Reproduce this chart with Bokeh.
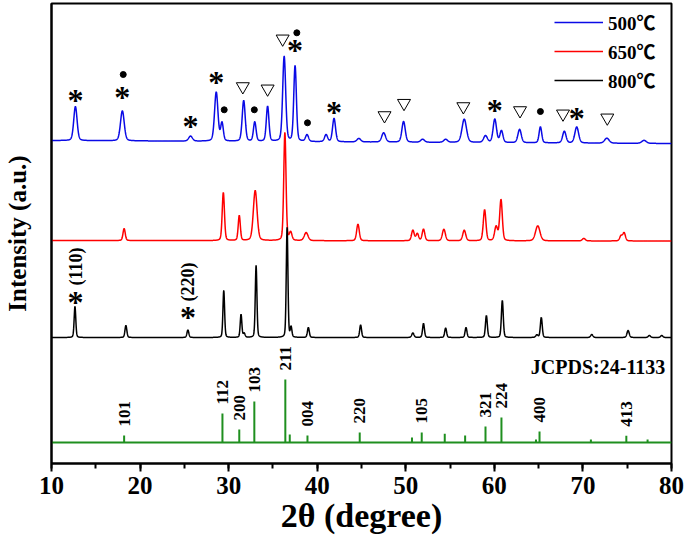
import numpy as np
from bokeh.plotting import figure
from bokeh.models import Range1d, SingleIntervalTicker, FixedTicker, Legend, LegendItem
from bokeh.core.properties import value
from bokeh.embed import file_html
from bokeh.resources import INLINE

# ---------------- data ----------------
x_ticks_interval = 10

# 800 C (black)
s800_base = [126, 126]
s800_pos = [12.65, 18.4, 25.4, 29.45, 31.4, 31.75, 33.1, 36.6, 37.05, 39.0, 44.9, 50.8, 52.0,
            54.5, 56.8, 59.1, 60.9, 64.8, 65.3, 71.0, 75.1, 77.5, 78.9]
s800_h = [31, 12, 7.5, 47, 23, 4, 72, 110, 10, 10, 12.5, 4.5, 14, 9.5, 10, 22, 37, 2.5, 20,
          3, 7, 2, 2]
s800_w = [0.22, 0.25, 0.25, 0.22, 0.22, 0.25, 0.22, 0.22, 0.22, 0.25, 0.25, 0.3, 0.25,
          0.25, 0.25, 0.25, 0.25, 0.3, 0.25, 0.3, 0.3, 0.3, 0.3]

# 650 C (red)
s650_base = [223, 222.5]
s650_pos = [18.2, 29.4, 31.2, 33.0, 36.35, 37.0, 38.75, 44.6, 50.8, 51.3, 52.0, 54.3, 56.6,
            58.9, 60.2, 60.75, 64.9, 70.1, 74.3, 74.65]
s650_h = [12, 48, 25, 50, 108, 8, 8, 16.5, 10.5, 7, 11.5, 11.5, 10.5, 31, 14, 41, 15, 2.5, 5, 8]
s650_w = [0.3, 0.3, 0.28, 0.5, 0.3, 0.35, 0.5, 0.35, 0.35, 0.35, 0.35, 0.4, 0.4,
          0.35, 0.4, 0.35, 0.6, 0.4, 0.35, 0.35]

# 500 C (blue)
s500_base = [323, 320]
s500_pos = [12.7, 18.0, 25.7, 28.6, 29.25, 31.7, 32.95, 34.4, 36.27, 37.5, 38.85, 41.0, 41.9,
            44.7, 47.5, 49.75, 51.9, 54.5, 56.6, 59.0, 60.05, 60.8, 62.85, 65.2, 67.9, 69.3,
            72.7, 76.9]
s500_h = [34, 30, 5, 49, 18, 40.7, 19.3, 35, 85, 75.7, 6.7, 7, 23.3, 3.5, 9.3, 20.7, 3, 3,
          23.3, 6.7, 23.3, 11.7, 13.3, 16, 11.7, 16, 5, 3]
s500_w = [0.45, 0.5, 0.5, 0.45, 0.35, 0.4, 0.35, 0.35, 0.4, 0.35, 0.4, 0.4, 0.4,
          0.5, 0.5, 0.45, 0.5, 0.5, 0.6, 0.5, 0.45, 0.4, 0.45, 0.35, 0.45, 0.5, 0.6, 0.6]

# JCPDS 24-1133 stick pattern
jc_base = 21
jc_pos = [18.2, 29.3, 31.2, 32.9, 36.4, 36.9, 38.9, 44.8, 50.7, 51.8, 54.4, 56.7, 59.0, 60.8,
          64.7, 65.1, 70.9, 74.9, 77.3]
jc_h = [7, 29, 13, 41, 63, 8, 7, 10, 5, 10, 8.7, 7, 16, 25, 3, 11, 3, 6.7, 3]
jc_hkl = ["101", "112", "200", "103", "211", "", "004", "220", "", "105", "", "", "321", "224",
          "", "400", "", "413", ""]

# phase markers
star_x = [12.7, 18.0, 25.7, 28.6, 37.5, 41.9, 60.05, 69.3, 12.7, 25.4]
star_y = [368, 370.7, 342, 385.7, 418, 355.7, 358, 349.7, 166, 151]
dot_x = [18.1, 29.5, 32.9, 37.7, 38.9, 65.2]
dot_y = [389, 353.7, 353.7, 430.7, 340.7, 352]
tri_x = [31.6, 34.4, 36.1, 47.6, 49.8, 56.5, 62.9, 67.75, 72.75]
tri_y = [377, 374.7, 424.7, 348, 360.3, 357, 353, 349.7, 345.7]
hkl_note_x = [12.75, 25.4]
hkl_note_y = [178, 162]
hkl_note = ["(110)", "(220)"]

legend_labels = ["500℃", "650℃", "800℃"]


def pattern(x, base, pos, h, w, eta=0.25):
    y = np.interp(x, [x[0], x[-1]], base)
    for p0, hh, ww in zip(pos, h, w):
        d2 = 4.0 * (x - p0) ** 2 / ww ** 2
        y = y + hh * (eta / (1 + d2) + (1 - eta) * np.exp(-np.log(2) * d2))
    return y


xs = np.linspace(10, 80, 3501)
y800 = pattern(xs, s800_base, s800_pos, s800_h, s800_w)
y650 = pattern(xs, s650_base, s650_pos, s650_h, s650_w)
y500 = pattern(xs, s500_base, s500_pos, s500_h, s500_w)

SERIF = "Liberation Serif"

p = figure(width=685, height=537, x_range=Range1d(10, 80), y_range=Range1d(0, 460),
           output_backend="svg", toolbar_location=None,
           min_border_left=50, min_border_right=14, min_border_top=3, min_border_bottom=74)
p.grid.visible = False
p.outline_line_color = "black"
p.outline_line_width = 2

# x axis
xa = p.xaxis[0]
xa.ticker = SingleIntervalTicker(interval=x_ticks_interval, num_minor_ticks=2)
xa.axis_line_width = 2
xa.major_tick_line_width = 2
xa.minor_tick_line_width = 2
xa.major_tick_in = 0
xa.major_tick_out = 8
xa.minor_tick_in = 0
xa.minor_tick_out = 5
xa.major_label_text_font = SERIF
xa.major_label_text_font_style = "bold"
xa.major_label_text_font_size = "25px"
xa.major_label_text_color = "black"
xa.major_label_standoff = 5
xa.axis_label = "2θ (degree)"
xa.axis_label_text_font = SERIF
xa.axis_label_text_font_style = "bold"
xa.axis_label_text_font_size = "34px"
xa.axis_label_text_color = "black"
xa.axis_label_standoff = 0

ya = p.yaxis[0]
ya.ticker = FixedTicker(ticks=[])
ya.axis_line_width = 2
ya.major_tick_line_color = None
ya.minor_tick_line_color = None
ya.major_label_standoff = 0
ya.axis_label = "Intensity (a.u.)"
ya.axis_label_text_font = SERIF
ya.axis_label_text_font_style = "bold"
ya.axis_label_text_font_size = "25px"
ya.axis_label_text_color = "black"
ya.axis_label_standoff = 21

# patterns
r500 = p.line(xs, y500, line_color="#0a0ae6", line_width=1.5)
r650 = p.line(xs, y650, line_color="#ff0000", line_width=1.5)
r800 = p.line(xs, y800, line_color="black", line_width=1.5)

# stick pattern
p.segment(x0=[10], y0=[jc_base], x1=[80], y1=[jc_base], line_color="#1f8f1f", line_width=2)
p.segment(x0=jc_pos, y0=[jc_base] * len(jc_pos), x1=jc_pos,
          y1=[jc_base + h for h in jc_h], line_color="#1f8f1f", line_width=2)
lab_x = [x for x, t in zip(jc_pos, jc_hkl) if t]
lab_y = [jc_base + h for h, t in zip(jc_h, jc_hkl) if t]
lab_t = [t for t in jc_hkl if t]
p.text(x=lab_x, y=lab_y, text=lab_t, angle=np.pi / 2, text_align="left",
       text_baseline="middle", y_offset=-9, text_font=value(SERIF),
       text_font_style="bold", text_font_size="17px", text_color="black")
p.text(x=[79.3], y=[97], text=["JCPDS:24-1133"], text_align="right", text_baseline="middle",
       text_font=value(SERIF), text_font_style="bold", text_font_size="20px",
       text_color="black")

# markers
p.text(x=star_x, y=star_y, text=["*"] * len(star_x), text_align="center",
       text_baseline="alphabetic", y_offset=4, text_font=value(SERIF),
       text_font_style="bold", text_font_size="32px", text_color="black")
p.scatter(x=dot_x, y=dot_y, marker="circle", size=6, fill_color="black", line_color="black")
p.scatter(x=tri_x, y=tri_y, marker="inverted_triangle", size=13, fill_color=None,
          line_color="black", line_width=1)
p.text(x=hkl_note_x, y=hkl_note_y, text=hkl_note, angle=np.pi / 2, text_align="left",
       text_baseline="middle", text_font=value(SERIF), text_font_style="bold",
       text_font_size="18px", text_color="black")

legend = Legend(items=[LegendItem(label=legend_labels[0], renderers=[r500]),
                       LegendItem(label=legend_labels[1], renderers=[r650]),
                       LegendItem(label=legend_labels[2], renderers=[r800])],
                location=(503, 370), padding=0, margin=0, spacing=2,
                glyph_width=49, glyph_height=20, label_height=20, label_standoff=5,
                border_line_color=None, background_fill_alpha=0,
                label_text_font="'Liberation Serif', 'Noto Sans CJK SC'",
                label_text_font_style="bold", label_text_font_size="19px",
                label_text_color="black")
p.add_layout(legend)

open("out.html", "w").write(file_html(p, INLINE))
